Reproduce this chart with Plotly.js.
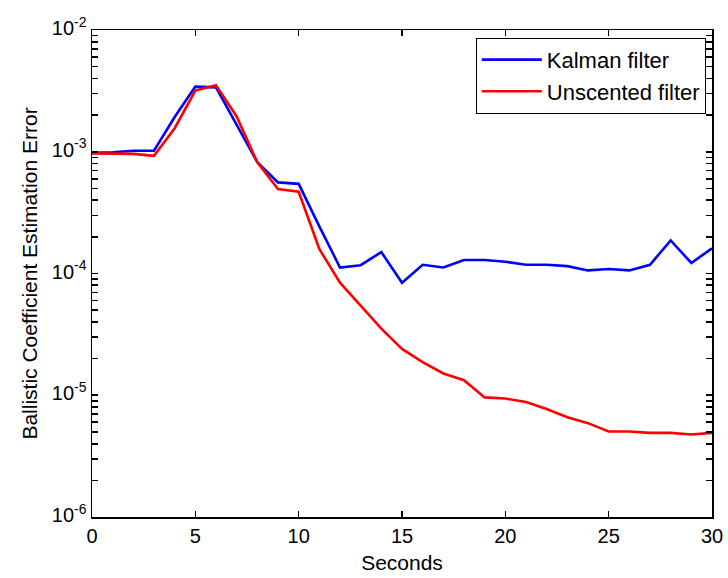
<!DOCTYPE html>
<html>
<head>
<meta charset="utf-8">
<script src="https://cdn.plot.ly/plotly-3.0.1.min.js"></script>
<style>html,body{margin:0;padding:0;background:#fff;}#chart{width:728px;height:578px;}</style>
</head>
<body>
<div id="chart"></div>
<script>
var seconds = [0,1,2,3,4,5,6,7,8,9,10,11,12,13,14,15,16,17,18,19,20,21,22,23,24,25,26,27,28,29,30];
var kalmanError = [9.8e-4,9.9e-4,1.02e-3,1.02e-3,1.93e-3,3.43e-3,3.38e-3,1.64e-3,8.2e-4,5.6e-4,5.45e-4,2.44e-4,1.12e-4,1.17e-4,1.5e-4,8.4e-5,1.18e-4,1.12e-4,1.29e-4,1.29e-4,1.25e-4,1.18e-4,1.18e-4,1.15e-4,1.06e-4,1.09e-4,1.06e-4,1.18e-4,1.87e-4,1.22e-4,1.61e-4];
var unscentedError = [9.7e-4,9.7e-4,9.6e-4,9.25e-4,1.56e-3,3.18e-3,3.52e-3,1.95e-3,8.2e-4,4.93e-4,4.69e-4,1.59e-4,8.4e-5,5.44e-5,3.53e-5,2.4e-5,1.87e-5,1.51e-5,1.33e-5,9.6e-6,9.4e-6,8.8e-6,7.7e-6,6.6e-6,5.9e-6,5.04e-6,5.04e-6,4.91e-6,4.91e-6,4.76e-6,4.91e-6];
var seriesNames = ["Kalman filter", "Unscented filter"];
var yDecadeExponents = [-6, -5, -4, -3, -2];
var xTickVals = [0,5,10,15,20,25,30];

// y ticks: labelled decades plus unlabelled 2..9 ticks inside each decade
var yTickVals = [], yTickText = [];
yDecadeExponents.forEach(function (e, i) {
  yTickVals.push(Math.pow(10, e));
  yTickText.push("10<sup>" + e + "</sup>");
  if (i < yDecadeExponents.length - 1) {
    for (var m = 2; m <= 9; m++) { yTickVals.push(m * Math.pow(10, e)); yTickText.push(""); }
  }
});

var font = "Liberation Sans, Arial, sans-serif";
var traces = [
  {x: seconds, y: kalmanError, name: seriesNames[0], mode: "lines", line: {color: "#0000ff", width: 2.6}},
  {x: seconds, y: unscentedError, name: seriesNames[1], mode: "lines", line: {color: "#ff0000", width: 2.6}}
];
var layout = {
  width: 728, height: 578,
  margin: {l: 92, r: 16, t: 30, b: 61},
  paper_bgcolor: "#fff", plot_bgcolor: "#fff",
  font: {family: font, color: "#000", size: 20},
  showlegend: true,
  legend: {x: 0.99, y: 0.984, xanchor: "right", yanchor: "top", bordercolor: "#000", borderwidth: 1, bgcolor: "#fff",
           font: {family: font, size: 22, color: "#000"}, tracegroupgap: 0, itemwidth: 60},
  xaxis: {
    range: [0, 30], tickvals: xTickVals, ticks: "inside", ticklen: 6, tickwidth: 1.2, tickcolor: "#000",
    showline: true, linecolor: "#000", linewidth: 1.5, mirror: "ticks", showgrid: false, zeroline: false,
    tickfont: {family: font, size: 20, color: "#000"}, ticklabelstandoff: 0,
    title: {text: "Seconds", font: {family: font, size: 21, color: "#000"}, standoff: 10}
  },
  yaxis: {
    type: "log", range: [-6, -2], tickvals: yTickVals, ticktext: yTickText,
    ticks: "inside", ticklen: 6, tickwidth: 1.6, tickcolor: "#000",
    showline: true, linecolor: "#000", linewidth: 1.5, mirror: "ticks", showgrid: false, zeroline: false,
    tickfont: {family: font, size: 20, color: "#000"}, ticklabelshift: -2,
    title: {text: "Ballistic Coefficient Estimation Error", font: {family: font, size: 21, color: "#000"}, standoff: 8}
  }
};
Plotly.newPlot("chart", traces, layout, {displayModeBar: false, staticPlot: true});
</script>
</body>
</html>
